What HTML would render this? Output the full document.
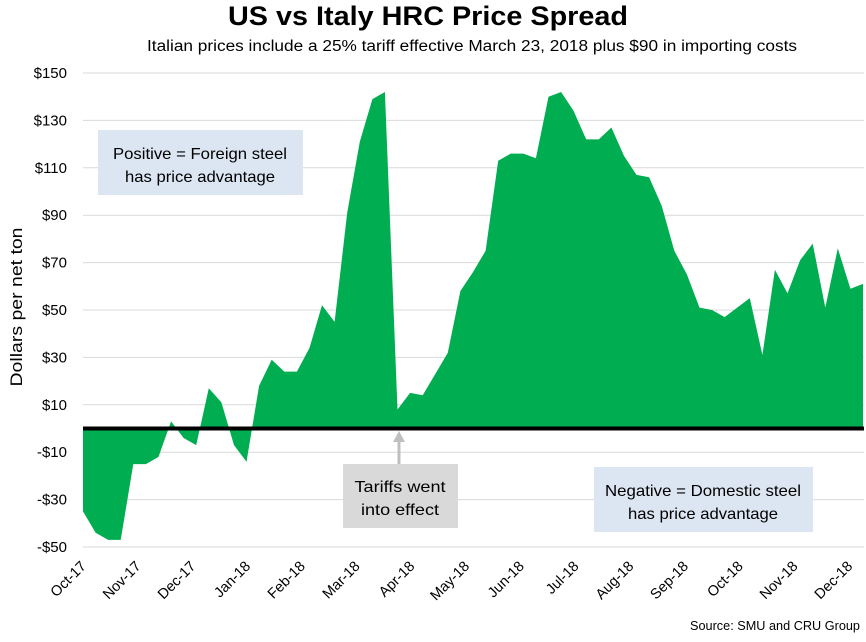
<!DOCTYPE html>
<html><head><meta charset="utf-8"><style>
body{margin:0;background:#fff;}
svg text{font-family:"Liberation Sans",sans-serif;fill:#000;}
</style></head><body>
<svg width="866" height="637" viewBox="0 0 866 637">
<g id="grid"></g>
<path id="area" fill="#00AD50"/>
<line x1="83" x2="864" y1="428.5" y2="428.5" stroke="#000" stroke-width="4"/>
<g id="yticks"></g>
<g id="xticks"></g>
<text x="428" y="25" text-anchor="middle" font-size="27" font-weight="bold" textLength="400" lengthAdjust="spacingAndGlyphs">US vs Italy HRC Price Spread</text>
<text x="472" y="51" text-anchor="middle" font-size="15.5" textLength="650" lengthAdjust="spacingAndGlyphs">Italian prices include a 25% tariff effective March 23, 2018 plus $90 in importing costs</text>
<text transform="translate(22,307) rotate(-90)" text-anchor="middle" font-size="17" textLength="159" lengthAdjust="spacingAndGlyphs">Dollars per net ton</text>
<g>
<rect x="98" y="130" width="205" height="65" fill="#DCE6F2"/>
<text x="200" y="159" text-anchor="middle" font-size="16" textLength="174" lengthAdjust="spacingAndGlyphs">Positive = Foreign steel</text>
<text x="200" y="182" text-anchor="middle" font-size="16" textLength="150" lengthAdjust="spacingAndGlyphs">has price advantage</text>
</g>
<g>
<line x1="399" y1="440" x2="399" y2="464" stroke="#BFBFBF" stroke-width="3"/>
<polygon points="393,442 405,442 399,431" fill="#BFBFBF"/>
<rect x="343" y="464" width="115" height="64" fill="#D9D9D9"/>
<text x="400" y="492" text-anchor="middle" font-size="16" textLength="91" lengthAdjust="spacingAndGlyphs">Tariffs went</text>
<text x="400" y="515" text-anchor="middle" font-size="16" textLength="78" lengthAdjust="spacingAndGlyphs">into effect</text>
</g>
<g>
<rect x="594" y="467" width="219" height="65" fill="#DCE6F2"/>
<text x="703" y="496" text-anchor="middle" font-size="16" textLength="196" lengthAdjust="spacingAndGlyphs">Negative = Domestic steel</text>
<text x="703" y="519" text-anchor="middle" font-size="16" textLength="150" lengthAdjust="spacingAndGlyphs">has price advantage</text>
</g>
<text x="860" y="630" text-anchor="end" font-size="12.5" textLength="170" lengthAdjust="spacingAndGlyphs">Source: SMU and CRU Group</text>
</svg>
<script>
const values=[-35,-44,-47,-47,-15,-15,-12,3,-4,-7,17,11,-7,-14,18,29,24,24,34,52,45,91,121,139,142,8,15,14,23,32,58,66,
75,113,116,116,114,140,142,134,122,122,127,115,107,106,94,75,65,51,50,47,51,55,31,67,57,71,78,51,76,59,61];
const monthLabels=["Oct-17","Nov-17","Dec-17","Jan-18","Feb-18","Mar-18","Apr-18","May-18","Jun-18","Jul-18","Aug-18","Sep-18","Oct-18","Nov-18","Dec-18"];
const yTicks=[150,130,110,90,70,50,30,10,-10,-30,-50];
const NS="http://www.w3.org/2000/svg";
const x0=83,x1=863,yTop=73,yBot=547,vMax=150,vMin=-50;
function xs(i){return x0+i*(x1-x0)/(values.length-1);}
function ys(v){return yTop+(vMax-v)*(yBot-yTop)/(vMax-vMin);}
let d="M"+xs(0)+","+ys(0);
values.forEach((v,i)=>{d+=" L"+xs(i).toFixed(1)+","+ys(v).toFixed(1);});
d+=" L"+xs(values.length-1)+","+ys(0)+" Z";
document.getElementById('area').setAttribute('d',d);
const grid=document.getElementById('grid'),yt=document.getElementById('yticks'),xt=document.getElementById('xticks');
yTicks.forEach(v=>{
 const l=document.createElementNS(NS,'line');
 
 
 l.setAttribute('x1',x0);l.setAttribute('x2',864);l.setAttribute('y1',ys(v));l.setAttribute('y2',ys(v));
 l.setAttribute('stroke','#D9D9D9');l.setAttribute('stroke-width','1');
 grid.appendChild(l);
 const t=document.createElementNS(NS,'text');
 
 
 t.setAttribute('x',67);t.setAttribute('y',ys(v)+5);t.setAttribute('text-anchor','end');t.setAttribute('font-size','15');
 t.textContent=(v<0?"-$":"$")+Math.abs(v);
 yt.appendChild(t);
});
const weeksPerMonth=(values.length-1)/14.25;
monthLabels.forEach((m,i)=>{
 const t=document.createElementNS(NS,'text');
 
 
 const x=xs(i*weeksPerMonth)+4;
 t.setAttribute('transform','translate('+x.toFixed(1)+',567) rotate(-45)');
 t.setAttribute('text-anchor','end');t.setAttribute('font-size','14.5');
 t.textContent=m;
 xt.appendChild(t);
});
</script>
</body></html>
